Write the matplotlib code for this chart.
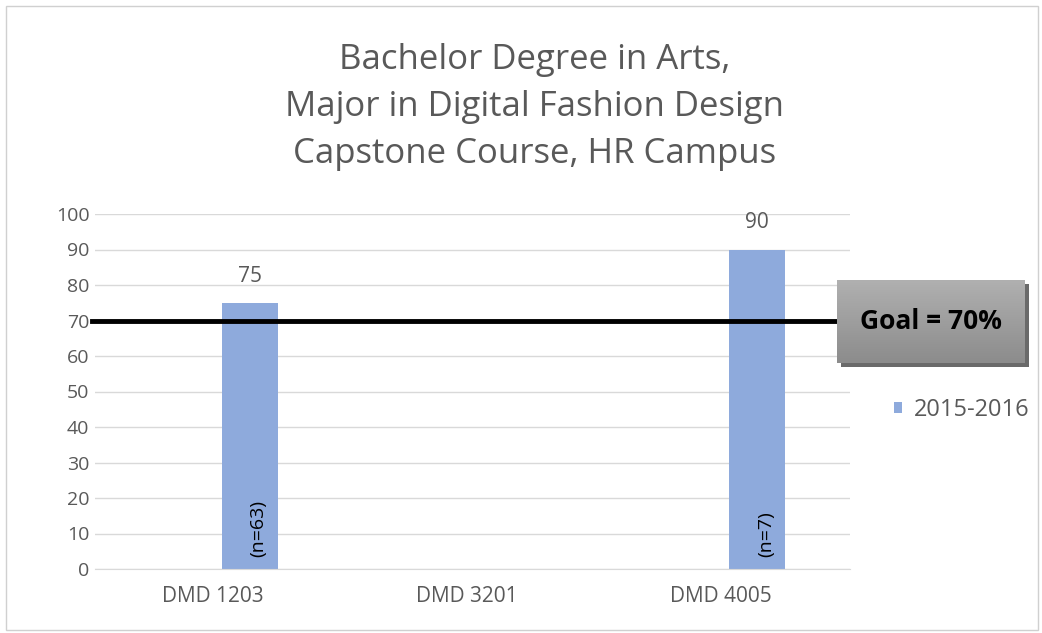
import numpy as np
from matplotlib import pyplot as plt
from matplotlib.patches import Rectangle
from matplotlib.colors import LinearSegmentedColormap

plt.rcParams['font.family'] = ['Open Sans', 'DejaVu Sans']

courses = ['DMD 1203', 'DMD 3201', 'DMD 4005']
scores = [75, np.nan, 90]
sizes = ['(n=63)', '', '(n=7)']
series_name = '2015-2016'
goal = 70
yticks = list(range(0, 101, 10))

grey = '#595959'
bar_color = '#8eaadc'
W, H = 1042, 633

fig = plt.figure(figsize=(W / 100, H / 100), dpi=100)
fig.patches.append(Rectangle((0.006, 0.005), 0.99, 0.985, transform=fig.transFigure,
                             fill=False, edgecolor='#d0d0d0', lw=1))

ax = fig.add_axes([95 / W, 1 - 569 / H, 755 / W, 355 / H])
x = np.arange(len(courses))
offset = 0.145
ax.bar(x + offset, scores, width=0.22, color=bar_color, label=series_name, zorder=2)

for xi, v, n in zip(x, scores, sizes):
    if np.isnan(v):
        continue
    ax.text(xi + offset, v + 7.5, str(v), ha='center', va='center', fontsize=15, color=grey)
    ax.text(xi + offset + 0.035, 3.5, n, rotation=90, ha='center', va='bottom', fontsize=14,
            color='black')

ax.axhline(goal, xmin=-0.004, xmax=0.985, color='black', lw=3.5, zorder=3, clip_on=False)

ax.set_xlim(-0.465, 2.51)
ax.set_ylim(0, 100)
ax.set_yticks(yticks)
ax.set_xticks(x)
ax.set_xticklabels(courses)
ax.tick_params(axis='both', length=0, labelcolor=grey)
ax.tick_params(axis='y', labelsize=14, pad=4)
ax.tick_params(axis='x', labelsize=15, pad=12)
ax.yaxis.grid(True, color='#d9d9d9', lw=1, zorder=0)
for s in ax.spines.values():
    s.set_visible(False)
ax.spines['bottom'].set_visible(True)
ax.spines['bottom'].set_color('#d9d9d9')

fig.text(0.513, 1 - 107 / H, 'Bachelor Degree in Arts,\nMajor in Digital Fashion Design\nCapstone Course, HR Campus',
         ha='center', va='center', fontsize=25, color=grey, linespacing=1.5)

# legend
ax.legend(loc='center left', bbox_to_anchor=(1.03, 1 - (410 - 214) / 355), frameon=False,
          fontsize=17, labelcolor=grey, handlelength=0.35, handleheight=0.35, handletextpad=0.5)

# goal box with shadow and vertical gradient
bx0, by0, bw, bh = 837 / W, 1 - 363 / H, 188 / W, 83 / H
shadow = fig.add_axes([bx0 + 4 / W, by0 - 4 / H, bw, bh])
shadow.set_facecolor('#6a6a6a')
shadow.set_xticks([])
shadow.set_yticks([])
for s in shadow.spines.values():
    s.set_visible(False)
shadow.set_zorder(4)
bax = fig.add_axes([bx0, by0, bw, bh])
bax.set_zorder(5)
grad = np.linspace(0, 1, 100).reshape(-1, 1)
bax.imshow(grad, aspect='auto', cmap=LinearSegmentedColormap.from_list('g', ['#b0b0b0', '#8c8c8c']),
           extent=(0, 1, 0, 1))
bax.set_axis_off()
bax.text(0.5, 0.5, 'Goal = 70%', ha='center', va='center', fontsize=19, fontweight='bold',
         color='black', transform=bax.transAxes)

plt.savefig('out.png', dpi=100)
